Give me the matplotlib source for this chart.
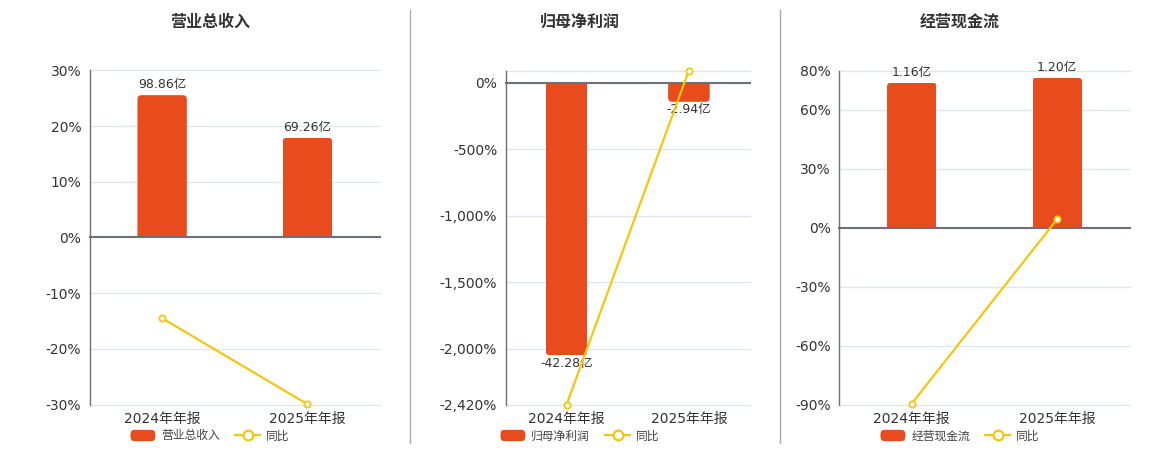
import matplotlib
matplotlib.use("Agg")
import matplotlib.pyplot as plt
from matplotlib.patches import FancyBboxPatch
from matplotlib.lines import Line2D
from matplotlib.legend_handler import HandlerPatch
from matplotlib.ticker import FuncFormatter

plt.rcParams['font.family'] = ['DejaVu Sans', 'Noto Sans CJK SC']

# ---------------- data ----------------
categories = ["2024年年报", "2025年年报"]
titles = ["营业总收入", "归母净利润", "经营现金流"]

revenue = [98.86, 69.26]          # 亿
revenue_yoy = [-14.5, -29.94]     # %
profit = [-42.28, -2.94]          # 亿
profit_yoy = [-2420.0, 93.05]     # %
cashflow = [1.16, 1.20]           # 亿
cashflow_yoy = [-89.5, 4.4]       # %

revenue_ticks = [-30, -20, -10, 0, 10, 20, 30]
profit_ticks = [-2420, -2000, -1500, -1000, -500, 0, 93.05]
cashflow_ticks = [-90, -60, -30, 0, 30, 60, 80]

# ---------------- style ----------------
W, H = 1160, 450
BAR_C = "#E84B1C"
LINE_C = "#F4C70F"
GRID_C = "#E0E6F1"
AXIS_C = "#6E7079"
TEXT_C = "#333333"

panels = [
    dict(title=titles[0], bars=revenue, yoy=revenue_yoy, ticks=revenue_ticks,
         ylim=(-30, 30), bar_top=116.0, left=89.5, right=380, center=210,
         hide_top_label=False, comma=False),
    dict(title=titles[1], bars=profit, yoy=profit_yoy, ticks=profit_ticks,
         ylim=(-2420, 93.05), bar_top=1.92, left=505.5, right=750, center=580,
         hide_top_label=True, comma=True),
    dict(title=titles[2], bars=cashflow, yoy=cashflow_yoy, ticks=cashflow_ticks,
         ylim=(-90, 80), bar_top=1.258, left=839, right=1130, center=960,
         hide_top_label=False, comma=False),
]
TOP, BOTTOM = 70.5, 404.5

fig = plt.figure(figsize=(W / 100, H / 100), dpi=100)


class RoundHandler(HandlerPatch):
    def create_artists(self, legend, orig_handle, xdescent, ydescent, width,
                       height, fontsize, trans):
        p = FancyBboxPatch((-xdescent, -ydescent), width, height,
                           boxstyle="round,pad=0,rounding_size=3",
                           fc=BAR_C, ec="none", transform=trans)
        return [p]


def round_bars(axb, bars, r_px, w_px, h_px):
    x0, x1 = axb.get_xlim()
    y0, y1 = axb.get_ylim()
    xpp = (x1 - x0) / w_px
    ypp = (y1 - y0) / h_px
    for rect in bars:
        x, y, w, h = rect.get_x(), rect.get_y(), rect.get_width(), rect.get_height()
        ext = r_px * ypp * 1.5
        if h >= 0:
            yb, hh = y - ext, h + ext
        else:
            yb, hh = y + h, -h + ext
        p = FancyBboxPatch((x, yb), w, hh,
                           boxstyle=f"round,pad=0,rounding_size={r_px * xpp}",
                           mutation_aspect=ypp / xpp,
                           fc=BAR_C, ec="none", zorder=2)
        axb.add_patch(p)
        p.set_clip_path(rect)
        rect.set_facecolor("none")


for i, p in enumerate(panels):
    l, r = p["left"], p["right"]
    w_px, h_px = r - l, BOTTOM - TOP
    rect = [l / W, 1 - BOTTOM / H, w_px / W, h_px / H]
    ax = fig.add_axes(rect)
    axb = ax.twinx()
    axl = ax.twinx()
    ax.set_zorder(1)
    axb.set_zorder(2)
    axl.set_zorder(3)
    axb.patch.set_visible(False)
    axl.patch.set_visible(False)

    x = list(range(len(categories)))
    ax.set_xlim(-0.5, len(categories) - 0.5)

    # percent axis (left)
    ymin, ymax = p["ylim"]
    ax.set_ylim(ymin, ymax)
    ax.set_yticks(p["ticks"])
    hide_top = p["hide_top_label"]
    comma = p["comma"]

    def fmt(v, pos, hide_top=hide_top, comma=comma, ymax=ymax):
        if hide_top and abs(v - ymax) < 1e-6:
            return ""
        return (f"{v:,.0f}%" if comma else f"{v:.0f}%")

    ax.yaxis.set_major_formatter(FuncFormatter(fmt))
    ax.grid(axis='y', color=GRID_C, lw=1)
    ax.set_axisbelow(True)
    for s in ["top", "right", "bottom"]:
        ax.spines[s].set_visible(False)
    ax.spines["left"].set_color(AXIS_C)
    ax.spines["left"].set_linewidth(1)
    ax.tick_params(axis='y', length=0, labelsize=10, labelcolor=TEXT_C, pad=6)
    ax.set_xticks(x)
    ax.set_xticklabels(categories)
    ax.set_xticks([-0.5, 0.5, 1.5], minor=True)
    ax.tick_params(axis='x', which='both', length=0, labelsize=10,
                   labelcolor=TEXT_C, pad=5)
    for gl in ax.get_ygridlines():
        gl.set_clip_on(False)

    # bar axis (hidden scale, zero aligned)
    bt = p["bar_top"]
    axb.set_ylim(bt * ymin / ymax, bt)
    axb.tick_params(axis='y', right=False, labelright=False)
    for s in ["top", "right", "left"]:
        axb.spines[s].set_visible(False)
    axb.spines["bottom"].set_position(('data', 0))
    axb.spines["bottom"].set_color(AXIS_C)
    axb.spines["bottom"].set_linewidth(1.5)
    axb.spines["bottom"].set_zorder(4)
    axb.tick_params(axis='x', which='major', length=0, labelbottom=False)
    axb.tick_params(axis='x', which='minor', length=4, width=1,
                    color=AXIS_C, direction='out', labelbottom=False)
    bars = axb.bar(x, p["bars"], width=0.34, color=BAR_C, zorder=2)
    round_bars(axb, bars, 4, w_px, h_px)
    for xi, v in zip(x, p["bars"]):
        if v >= 0:
            axb.annotate(f"{v:.2f}亿", (xi, v), xytext=(0, 3),
                         textcoords="offset points", ha="center", va="bottom",
                         fontsize=9, color=TEXT_C, zorder=5)
        else:
            axb.annotate(f"{v:.2f}亿", (xi, v), xytext=(0, -1),
                         textcoords="offset points", ha="center", va="top",
                         fontsize=9, color=TEXT_C, zorder=5)

    # yoy line axis
    axl.set_ylim(ymin, ymax)
    axl.axis('off')
    axl.plot(x, p["yoy"], color=LINE_C, lw=1.6, marker='o', markersize=4.5,
             markerfacecolor='white', markeredgecolor=LINE_C,
             markeredgewidth=1.3, clip_on=False, zorder=3)

    # title
    fig.text(p["center"] / W, 1 - 22 / H, p["title"], ha="center", va="center",
             fontsize=11.5, fontweight="bold", color=TEXT_C,
             family=['Noto Sans CJK SC', 'DejaVu Sans'])

    # legend
    h_bar = FancyBboxPatch((0, 0), 1, 1, fc=BAR_C, ec="none")
    h_line = Line2D([], [], color=LINE_C, lw=1.6, marker='o', markersize=7,
                    markerfacecolor='white', markeredgecolor=LINE_C,
                    markeredgewidth=1.6)
    leg = ax.legend([h_bar, h_line], [p["title"], "同比"], ncol=2,
                    loc="center", bbox_to_anchor=(p["center"] / W, 1 - 436 / H),
                    bbox_transform=fig.transFigure, frameon=False,
                    handlelength=2.1, handleheight=1.1,
                    handletextpad=0.5, columnspacing=1.3, borderpad=0,
                    handler_map={FancyBboxPatch: RoundHandler()},
                    prop={'family': ['Noto Sans CJK SC', 'DejaVu Sans'], 'size': 8.5})
    for t in leg.get_texts():
        t.set_color("#444444")

# separators
for sx in [410, 780]:
    fig.add_artist(Line2D([sx / W, sx / W], [1 - 10 / H, 1 - 443 / H],
                          color="#AAAAAA", lw=1))

fig.savefig("out.png", dpi=100)
